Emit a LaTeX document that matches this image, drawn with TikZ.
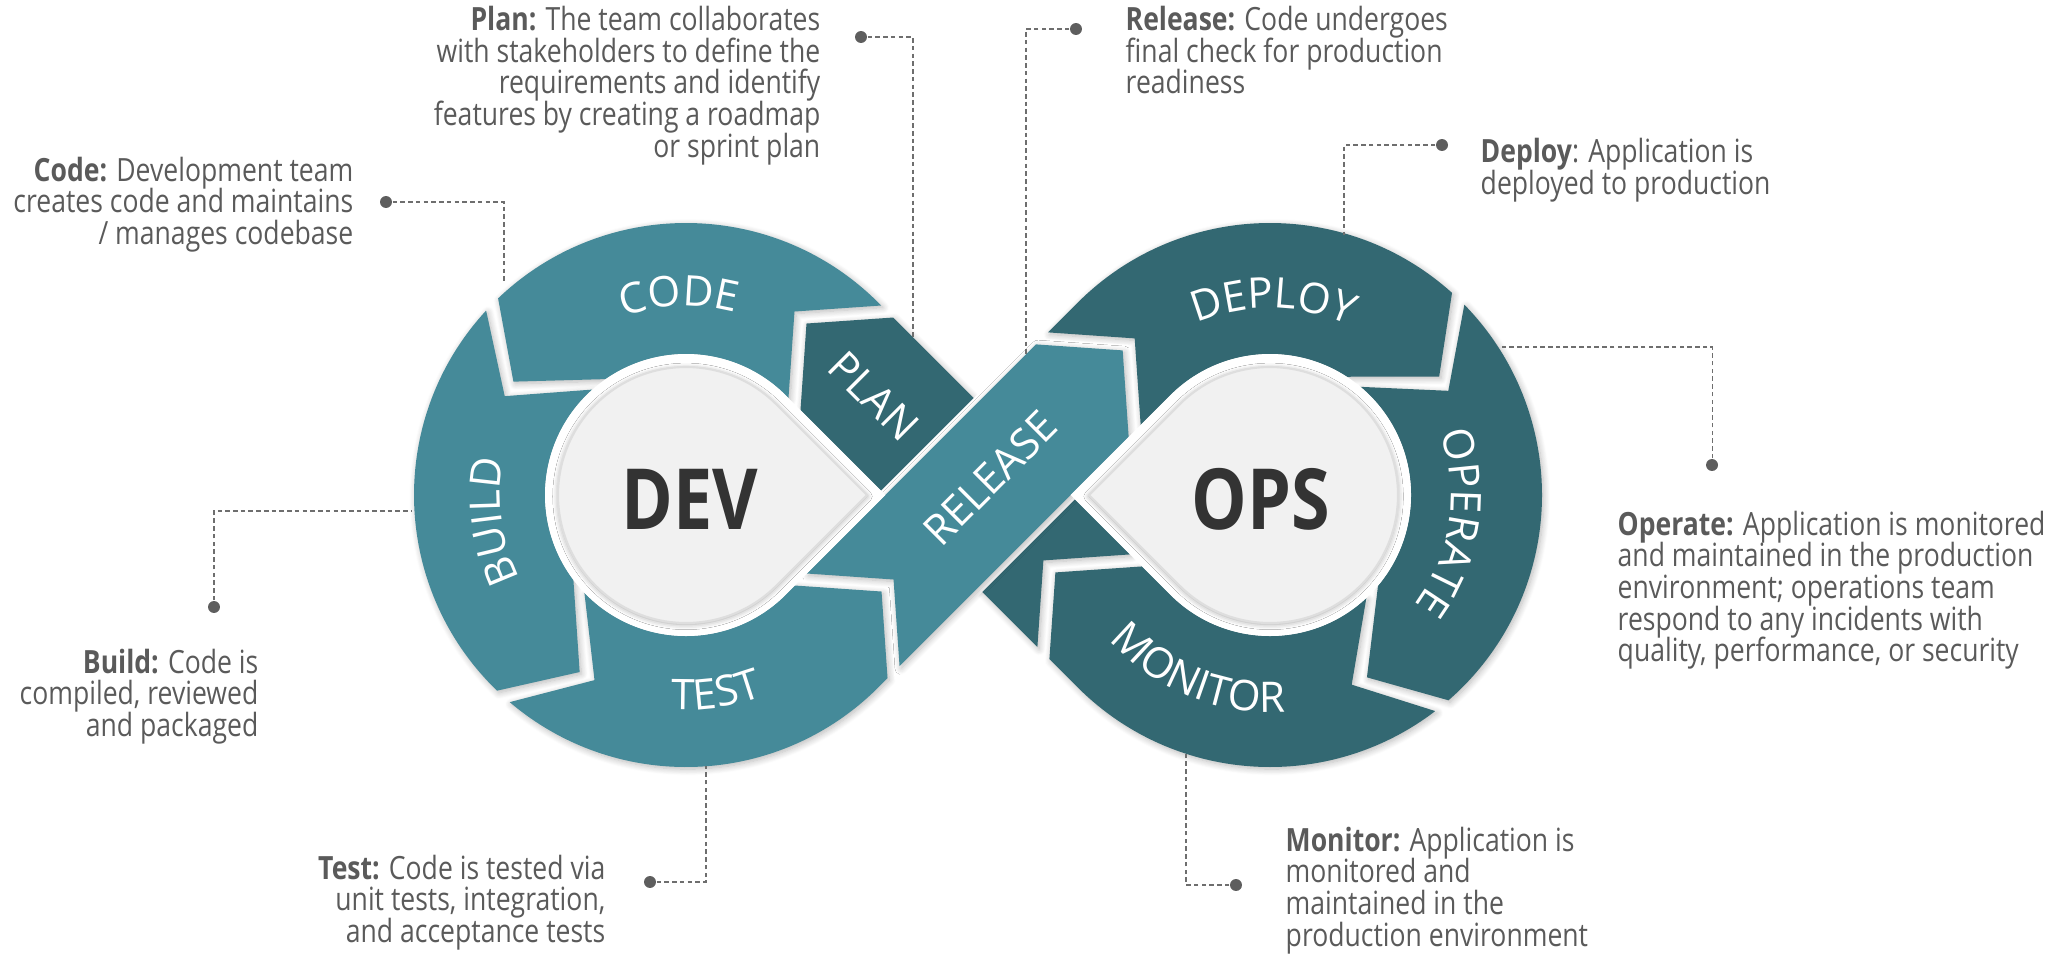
\documentclass[tikz,border=0pt]{standalone}
\usepackage{fontspec}
\setmainfont{Open Sans}[FakeStretch=0.83]
\newfontfamily\labfont{Open Sans}
\usetikzlibrary{calc,decorations.text,shadows.blur}

\definecolor{devteal}{HTML}{458A99}
\definecolor{opsteal}{HTML}{336872}
\definecolor{dropgray}{HTML}{F1F1F1}
\definecolor{txtgray}{HTML}{5A5A5A}
\definecolor{leadgray}{HTML}{6E6E6E}
\definecolor{dotgray}{HTML}{5E5E5E}
\definecolor{bigtxt}{HTML}{333333}

\newcommand{\descfont}{\fontsize{9.1}{9.02}\selectfont\lineskiplimit=-6pt\relax}
\newcommand{\segfont}{\labfont\fontsize{12}{14}\selectfont}

% raggi dell'otto
\def\Ro{272}
\def\Ri{141}
\def\Rm{206.5}
\def\hw{65.5}

\tikzset{
  seg/.style={blur shadow={shadow xshift=0.5pt, shadow yshift=-0.6pt, shadow blur radius=1.8pt, shadow blur steps=8, shadow opacity=28}},
  devseg/.style={seg, fill=devteal},
  opsseg/.style={seg, fill=opsteal},
  drop/.style={fill=dropgray, draw=black!13, line width=0.6pt, blur shadow={shadow xshift=0pt, shadow yshift=-0.4pt, shadow blur radius=1.5pt, shadow opacity=35}},
  seglabel/.style={font=\segfont, text=white, inner sep=0pt},
  arclabel/.style={decorate, decoration={text along path, text align=center, text color=white}},
  desc/.style={font=\descfont, text=txtgray, inner sep=0pt},
  leader/.style={draw=leadgray, line width=0.3pt, dash pattern=on 1.3pt off 0.9pt},
  leaddot/.style={circle, fill=dotgray, inner sep=0pt, minimum size=3.4pt},
  bigword/.style={font=\fontsize{24}{28}\selectfont\bfseries, text=bigtxt, inner sep=0pt}
}

\begin{document}
\begin{tikzpicture}[x=0.01cm, y=0.01cm]
  \useasboundingbox (0,0) rectangle (2070,953);

  % centri e inizio delle fasce
  \coordinate (C1) at (686,458);
  \coordinate (C2) at (1270,458);
  \coordinate (A0) at ($(C2)+(225:\Rm)$);
  \coordinate (B0) at ($(C1)+(-45:\Rm)$);

  % PLAN (passa sotto il RELEASE)
  \path[opsseg] ($(A0)+(135:57)+(45:\hw)$) -- ($(A0)+(135:392)+(45:\hw)$) -- ($(A0)+(135:449)$)
    -- ($(A0)+(135:392)+(225:\hw)$) -- ($(A0)+(135:57)+(225:\hw)$) -- ($(A0)+(135:114)$) -- cycle;

  % anello DEV
  \path[devseg] ($(A0)+(135:409)+(45:\hw)$) -- ($(C1)+(45:\Ro)$) arc[start angle=45, end angle=133.7, radius=\Ro]
    -- ($(C1)+(146.7:\Rm)$) -- ($(C1)+(124.7:\Ri)$) arc[start angle=124.7, end angle=45, radius=\Ri]
    -- ($(A0)+(135:409)+(225:\hw)$) -- ($(A0)+(135:466)$) -- cycle;
  \path[devseg] ($(C1)+(137.3:\Ro)$) arc[start angle=137.3, end angle=226, radius=\Ro]
    -- ($(C1)+(239:\Rm)$) -- ($(C1)+(217:\Ri)$) arc[start angle=217, end angle=131.6, radius=\Ri]
    -- ($(C1)+(151.4:\Rm)$) -- cycle;
  \path[devseg] ($(C1)+(229.6:\Ro)$) arc[start angle=229.6, end angle=315, radius=\Ro]
    -- ($(B0)+(45:13)+(-45:\hw)$) -- ($(B0)+(45:70)$) -- ($(B0)+(45:13)+(135:\hw)$)
    -- ($(C1)+(315:\Ri)$) arc[start angle=315, end angle=223.9, radius=\Ri]
    -- ($(C1)+(243.7:\Rm)$) -- cycle;

  % anello OPS
  \path[opsseg] ($(B0)+(45:371)+(135:\hw)$) -- ($(C2)+(135:\Ro)$) arc[start angle=135, end angle=48, radius=\Ro]
    -- ($(C2)+(35:\Rm)$) -- ($(C2)+(57:\Ri)$) arc[start angle=57, end angle=135, radius=\Ri]
    -- ($(B0)+(45:371)+(-45:\hw)$) -- ($(B0)+(45:428)$) -- cycle;
  \path[opsseg] ($(C2)+(44.4:\Ro)$) arc[start angle=44.4, end angle=-49, radius=\Ro]
    -- ($(C2)+(-62:\Rm)$) -- ($(C2)+(-40:\Ri)$) arc[start angle=-40, end angle=50.1, radius=\Ri]
    -- ($(C2)+(30.3:\Rm)$) -- cycle;
  \path[opsseg] ($(C2)+(-52.6:\Ro)$) arc[start angle=-52.6, end angle=-135, radius=\Ro]
    -- ($(A0)+(135:40)+(225:\hw)$) -- ($(A0)+(135:97)$) -- ($(A0)+(135:40)+(45:\hw)$)
    -- ($(C2)+(225:\Ri)$) arc[start angle=225, end angle=313.1, radius=\Ri]
    -- ($(C2)+(-66.7:\Rm)$) -- cycle;

  % RELEASE sopra, con bordo bianco
  \path[preaction={draw=white, line width=3.4pt}, devseg] ($(B0)+(45:30)+(-45:\hw)$) -- ($(B0)+(45:354)+(-45:\hw)$)
    -- ($(B0)+(45:411)$) -- ($(B0)+(45:354)+(135:\hw)$) -- ($(B0)+(45:30)+(135:\hw)$) -- ($(B0)+(45:87)$) -- cycle;

  % gocce centrali
  \fill[white] ($(C1)+(45:\Ri)$) arc[start angle=45, end angle=315, radius=\Ri] -- ($(C1)+(0:199.4)$) -- cycle;
  \path[drop] ($(C1)+(45:128)$) arc[start angle=45, end angle=315, radius=128] -- ($(C1)+(0:181)$) -- cycle;
  \fill[white] ($(C2)+(-135:\Ri)$) arc[start angle=-135, end angle=135, radius=\Ri] -- ($(C2)+(180:199.4)$) -- cycle;
  \path[drop] ($(C2)+(-135:128)$) arc[start angle=-135, end angle=135, radius=128] -- ($(C2)+(180:181)$) -- cycle;
  \node[bigword] (tdev) at (690,454) {DEV};
  \node[bigword] (tops) at (1261,454) {OPS};

  % scritte sui segmenti
  \path[arclabel, decoration={text={|\segfont|CODE}}] ($(C1)+(152:189)$) arc[start angle=152, end angle=32, radius=189];
  \path[arclabel, decoration={text={|\segfont|BUILD}}] ($(C1)+(247.8:186)$) arc[start angle=247.8, end angle=127.8, radius=186];
  \path[arclabel, decoration={text={|\segfont|TEST}}] ($(C1)+(-141.4:215)$) arc[start angle=-141.4, end angle=-21.4, radius=215];
  \path[arclabel, decoration={text={|\segfont|DEPLOY}}] ($(C2)+(149:187)$) arc[start angle=149, end angle=29, radius=187];
  \path[arclabel, decoration={text={|\segfont|OPERATE}}] ($(C2)+(51.4:181)$) arc[start angle=51.4, end angle=-68.6, radius=181];
  \path[arclabel, decoration={text={|\segfont|MONITOR}}] ($(C2)+(188:217)$) arc[start angle=188, end angle=308, radius=217];
  \node[seglabel, rotate=45] (lrelease) at (990,475) {RELEASE};
  \node[seglabel, rotate=-45] (lplan) at (874,557) {PLAN};

  % punti e linee tratteggiate
  \foreach \n/\x/\y in {plan/861/916, release/1076/924, code/386/751, deploy/1442/808,
                        operate/1712/488, build/214/346, test/650/71, monitor/1236/68}
    \node[leaddot] (d\n) at (\x,\y) {};
  \foreach \n/\x/\y in {plan/913/616, release/1026/599, code/504/672, deploy/1344/718,
                        operate/1500/606, build/412/442, test/706/187, monitor/1186/199}
    \coordinate (e\n) at (\x,\y);
  \draw[leader] (dplan) -| (eplan);
  \draw[leader] (drelease) -| (erelease);
  \draw[leader] (dcode) -| (ecode);
  \draw[leader] (ddeploy) -| (edeploy);
  \draw[leader] (doperate) |- (eoperate);
  \draw[leader] (dbuild) |- (ebuild);
  \draw[leader] (dtest) -| (etest);
  \draw[leader] (dmonitor) -| (emonitor);

  % testi
  \node[desc, anchor=north east, align=right] (tplan) at (821,947.5) {\textbf{Plan:} The team collaborates\\with stakeholders to define the\\requirements and identify\\features by creating a roadmap\\or sprint plan};
  \node[desc, anchor=north west, align=left] (trelease) at (1125,947.5) {\textbf{Release:} Code undergoes\\final check for production\\readiness};
  \node[desc, anchor=north east, align=right] (tcode) at (354,797) {\textbf{Code:} Development team\\creates code and maintains\\/ manages codebase};
  \node[desc, anchor=north west, align=left] (tdeploy) at (1480,815.5) {\textbf{Deploy}: Application is\\deployed to production};
  \node[desc, anchor=north west, align=left] (toperate) at (1617,443) {\textbf{Operate:} Application is monitored\\and maintained in the production\\environment; operations team\\respond to any incidents with\\quality, performance, or security};
  \node[desc, anchor=north east, align=right] (tbuild) at (259,305) {\textbf{Build:} Code is\\compiled, reviewed\\and packaged};
  \node[desc, anchor=north east, align=right] (ttest) at (606,99) {\textbf{Test:} Code is tested via\\unit tests, integration,\\and acceptance tests};
  \node[desc, anchor=north west, align=left] (tmonitor) at (1285,127) {\textbf{Monitor:} Application is\\monitored and\\maintained in the\\production environment};
\end{tikzpicture}
\end{document}
